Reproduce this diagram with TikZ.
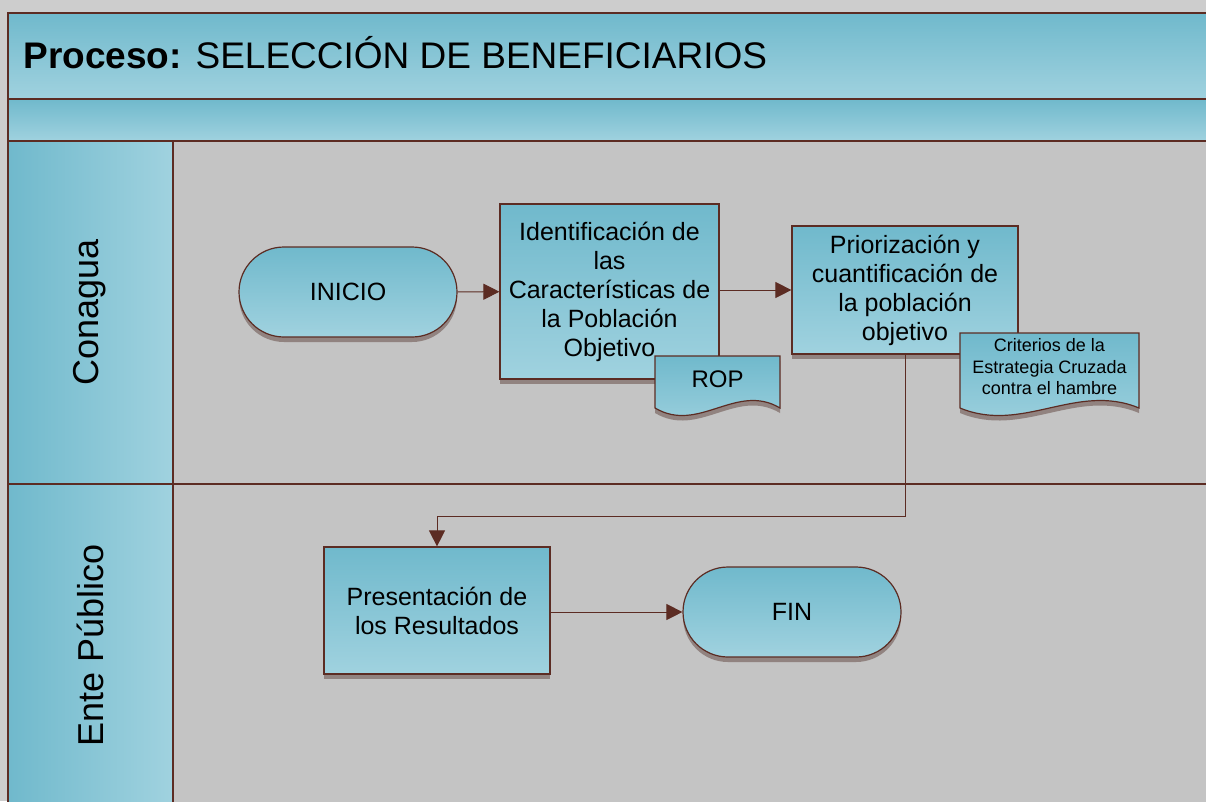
\documentclass[tikz,border=0pt]{standalone}
\usepackage{fontspec}
\setmainfont{Liberation Sans}
\usetikzlibrary{arrows.meta, shadows}
\definecolor{lineBrown}{RGB}{92,44,35}
\definecolor{tealTop}{RGB}{112,185,204}
\definecolor{tealBot}{RGB}{160,210,223}
\definecolor{laneGray}{RGB}{196,196,196}
\definecolor{outerGray}{RGB}{205,205,205}
\definecolor{shadowGray}{RGB}{128,110,106}
\newcommand{\docshape}[4]{%
  \path[docfill] (#1,#2) -- (#3,#2) -- (#3,#4)
    .. controls ({#3-0.35*(#3-#1)},{#4-26}) and ({#1+0.35*(#3-#1)},{#4+26}) .. (#1,#4) -- cycle;}

\begin{document}
\begin{tikzpicture}[x=1pt, y=-1pt,
	lane/.style={lineBrown, line width=2.5pt},
	shade/.style={drop shadow={shadow xshift=0pt, shadow yshift=-5pt, fill=shadowGray, opacity=0.75}},
	box/.style={rectangle, draw=lineBrown, line width=1.2pt, top color=tealTop, bottom color=tealBot, shade, align=center, inner sep=2pt, font=\fontsize{25}{29}\selectfont},
	term/.style={box, rounded corners=45pt, minimum width=218pt, minimum height=90pt},
	docfill/.style={draw=lineBrown, line width=1.2pt, top color=tealTop, bottom color=tealBot, shade},
	flow/.style={lineBrown, line width=1pt, -{Triangle[length=16pt, width=16pt]}}]
	\clip (0,0) rectangle (1206,801);
	\fill[outerGray] (0,0) rectangle (1206,801);
	\fill[laneGray] (173,141) rectangle (1220,810);
	\path[top color=tealTop, bottom color=tealBot] (8,13) rectangle (1220,99);
	\path[top color=tealTop, bottom color=tealBot] (8,99) rectangle (1220,141);
	\path[left color=tealTop, right color=tealBot] (8,141) rectangle (173,484);
	\path[left color=tealTop, right color=tealBot] (8,484) rectangle (173,810);
	\draw[lane] (1220,13) -- (8,13) -- (8,810);
	\draw[lane] (8,99) -- (1220,99);
	\draw[lane] (8,141) -- (1220,141);
	\draw[lane] (8,484) -- (1220,484);
	\draw[lane] (173,141) -- (173,810);
	\node[anchor=west, font=\fontsize{37}{44}\selectfont] (title) at (20,53) {\textbf{Proceso:} SELECCIÓN DE BENEFICIARIOS};
	\node[rotate=90, font=\fontsize{36}{43}\selectfont] (laneA) at (90,312) {Conagua};
	\node[rotate=90, font=\fontsize{36}{43}\selectfont] (laneB) at (90,645) {Ente Público};

	\node[term] (inicio) at (348,292) {INICIO};
	\node[box, minimum width=219pt, minimum height=175pt] (ident) at (609.5,291.5) {Identificación de\\las\\Características de\\la Población\\Objetivo};
	\docshape{655}{356}{780}{408}
	\node[font=\fontsize{24}{29}\selectfont] (rop) at (717.5,379) {ROP};
	\node[box, minimum width=226pt, minimum height=128pt] (prior) at (905,290) {Priorización y\\cuantificación de\\la población\\objetivo};
	\docshape{960}{333}{1139}{408}
	\node[align=center, font=\fontsize{18}{21.5}\selectfont] (crit) at (1049.5,367) {Criterios de la\\Estrategia Cruzada\\contra el hambre};
	\node[box, minimum width=226pt, minimum height=127pt] (pres) at (437,610.5) {Presentación de\\los Resultados};
	\node[term] (fin) at (792,612) {FIN};
	\coordinate (turn) at (437,516);

	\draw[flow] (inicio) -- (ident);
	\draw[flow] (ident.east |- prior.west) -- (prior.west);
	\draw[flow] (prior.south) |- (turn) -- (pres.north);
	\draw[flow] (pres.east |- fin.west) -- (fin.west);
\end{tikzpicture}
\end{document}
